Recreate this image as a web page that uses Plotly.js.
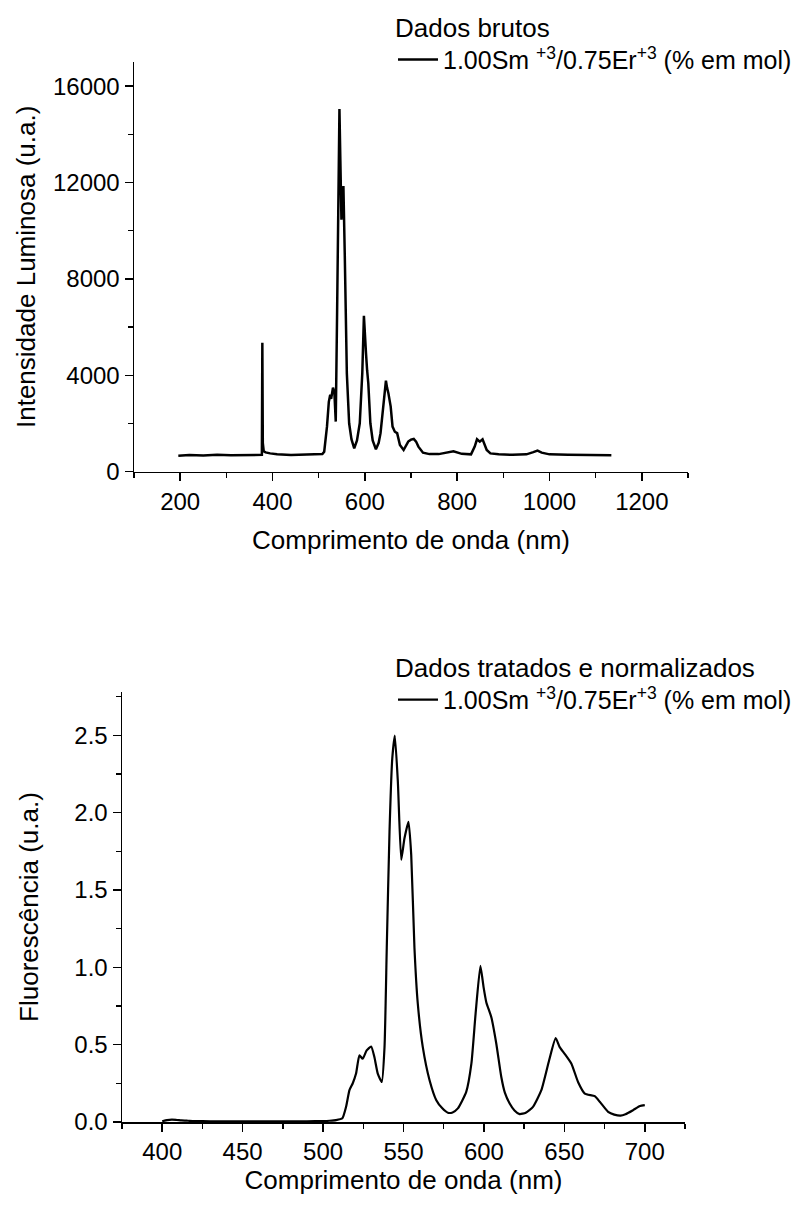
<!DOCTYPE html>
<html>
<head>
<meta charset="utf-8">
<script src="https://cdn.plot.ly/plotly-3.0.1.min.js"></script>
<style>html,body{margin:0;padding:0;background:#fff;}#chart{width:797px;height:1207px;}</style>
</head>
<body>
<div id="chart"></div>
<script>
// ---- Raw data (top panel) ----
const rawWavelength = [196,220,250,280,310,340,370,377,378,379,381,385,395,410,440,470,500,508,512,518,522,525,527,531,534,537,540,542,545,547,549.3,551.5,553.6,556.6,558.5,561,566,571,577,583,589,592,594.5,598,600,602.5,605,607.5,612,617,624,630,634,640,643,645.7,648,651,656,660,665,670,676,684,694,700,706,711,716,726,740,760,792,810,830,838,843,849,855,860,864,872,890,920,950,965,974,983,1000,1040,1080,1110,1134];
const rawIntensity  = [660,690,670,700,680,690,680,700,5350,1200,850,800,760,720,690,700,700,730,830,1870,2900,3190,3020,3490,3300,2080,6700,10060,15050,12900,10460,11300,11850,8935,6200,4090,2010,1350,970,1300,2010,3000,4090,6470,5600,4920,4200,3670,2010,1300,930,1200,1600,2700,3400,3780,3500,3260,2700,1870,1660,1600,1110,900,1250,1330,1360,1250,1040,790,730,730,850,740,720,1040,1346,1247,1346,1100,902,760,720,700,720,810,873,790,720,700,690,700,680];

// ---- Treated / normalized data (bottom panel) ----
const normWavelength = [400,403,406,409,412,416,420,430,440,450,460,470,480,490,500,504,508,512,514.3,516.4,518.4,520.5,522.6,524.6,527.1,529.9,531.9,534,536.5,538.2,539.6,541.3,543,544.6,546.5,548.6,550.6,553.1,554.8,556.8,558.9,562,566.2,570.4,574,577.6,580.5,583.8,589,592.2,594.8,597.8,599.8,601.5,604.6,607.7,610.8,613,616,619,622.2,626,630.5,635.7,640.5,644.6,647.1,650.2,654.4,658.5,662.7,668.9,672,677.2,681,684.9,688,692.8,697,700];
const normFluor = [0.005,0.012,0.015,0.013,0.010,0.008,0.006,0.005,0.004,0.004,0.004,0.004,0.005,0.005,0.006,0.008,0.012,0.024,0.098,0.206,0.249,0.313,0.431,0.409,0.463,0.488,0.42,0.313,0.259,0.484,1.127,1.877,2.348,2.498,2.198,1.695,1.834,1.941,1.727,1.127,0.763,0.484,0.27,0.141,0.09,0.06,0.062,0.088,0.195,0.377,0.698,1.009,0.87,0.773,0.677,0.506,0.291,0.19,0.12,0.075,0.051,0.06,0.098,0.206,0.398,0.542,0.484,0.441,0.377,0.259,0.184,0.167,0.131,0.066,0.048,0.041,0.05,0.077,0.103,0.109];

const seriesName = '1.00Sm <sup>+3</sup>/0.75Er<sup>+3</sup> (% em mol)';
const topLegendTitle = 'Dados brutos';
const bottomLegendTitle = 'Dados tratados e normalizados';
const xTitle = 'Comprimento de onda (nm)';
const yTitleTop = 'Intensidade Luminosa (u.a.)';
const yTitleBottom = 'Fluorescência (u.a.)';

const W = 797, H = 1207;
const M = {l:110, r:0, t:0, b:80};
const FONT = 'Liberation Sans, Arial, Helvetica, sans-serif';
const TICK_SIZE = 24, TITLE_SIZE = 26;
// pixel -> paper fraction helpers (layout geometry only)
const xp = px => (px - M.l) / (W - M.l - M.r);
const yp = py => (H - M.b - py) / (H - M.t - M.b);

const traces = [
  {x: rawWavelength, y: rawIntensity, type:'scatter', mode:'lines', name: seriesName,
   line:{color:'#000', width:2.5}, xaxis:'x', yaxis:'y', legend:'legend'},
  {x: normWavelength, y: normFluor, type:'scatter', mode:'lines', name: seriesName,
   line:{color:'#000', width:2.2, shape:'spline', smoothing:0.5}, xaxis:'x2', yaxis:'y2', legend:'legend2'}
];

function axisBase(){
  return {showline:true, linecolor:'#000', linewidth:1.5, ticks:'outside', ticklen:8, tickwidth:1.5, tickcolor:'#000',
          showgrid:false, zeroline:false, automargin:false, fixedrange:true,
          tickfont:{family:FONT, size:TICK_SIZE, color:'#000'}};
}
function minorTicks(step){
  return {tick0:0, dtick:step, ticks:'outside', ticklen:5, tickwidth:1.5, tickcolor:'#000', showgrid:false};
}

const layout = {
  width:W, height:H, margin:{l:M.l, r:M.r, t:M.t, b:M.b},
  paper_bgcolor:'#fff', plot_bgcolor:'#fff',
  font:{family:FONT, size:TICK_SIZE, color:'#000'},
  showlegend:true,
  xaxis: Object.assign(axisBase(), {
    domain:[xp(134), xp(688)], anchor:'y', range:[100,1300], tick0:0, dtick:200,
    minor:minorTicks(100),
    title:{text:xTitle, font:{family:FONT, size:TITLE_SIZE}, standoff:17}
  }),
  yaxis: Object.assign(axisBase(), {
    domain:[yp(471.7), yp(62)], anchor:'x', range:[0,17000], tick0:0, dtick:4000, tickformat:'d',
    minor:minorTicks(2000),
    title:{text:yTitleTop, font:{family:FONT, size:TITLE_SIZE}, standoff:10}
  }),
  xaxis2: Object.assign(axisBase(), {
    domain:[xp(122), xp(685)], anchor:'y2', range:[375,725], tick0:0, dtick:50,
    minor:minorTicks(25),
    title:{text:xTitle, font:{family:FONT, size:TITLE_SIZE}, standoff:0}
  }),
  yaxis2: Object.assign(axisBase(), {
    domain:[yp(1122), yp(692)], anchor:'x2', range:[0,2.78], tick0:0, dtick:0.5, tickformat:'.1f',
    minor:minorTicks(0.25),
    title:{text:yTitleBottom, font:{family:FONT, size:TITLE_SIZE}, standoff:28}
  }),
  legend:{x:1, xanchor:'right', y:yp(3), yanchor:'top', bgcolor:'rgba(0,0,0,0)', borderwidth:0,
          font:{family:FONT, size:25, color:'#000'}, itemwidth:40, tracegroupgap:0,
          title:{text:topLegendTitle, side:'top', font:{family:FONT, size:26, color:'#000'}}},
  legend2:{x:1, xanchor:'right', y:yp(643), yanchor:'top', bgcolor:'rgba(0,0,0,0)', borderwidth:0,
          font:{family:FONT, size:25, color:'#000'}, itemwidth:40, tracegroupgap:0,
          title:{text:bottomLegendTitle, side:'top', font:{family:FONT, size:26, color:'#000'}}}
};

Plotly.newPlot('chart', traces, layout, {staticPlot:true, displayModeBar:false});
</script>
</body>
</html>
